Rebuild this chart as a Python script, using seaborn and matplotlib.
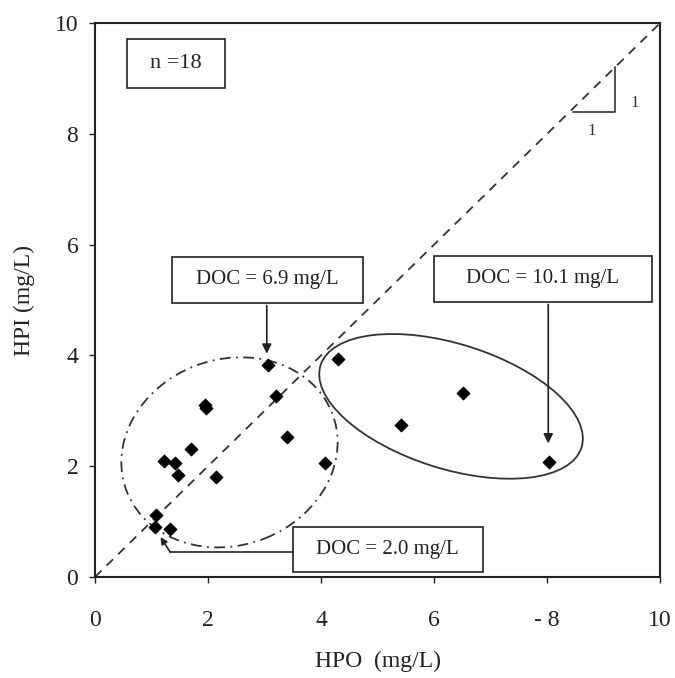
import matplotlib
matplotlib.use("Agg")
import matplotlib.pyplot as plt
from matplotlib.patches import Ellipse, Rectangle
import seaborn as sns
import pandas as pd

# data
hpo = [3.06, 3.20, 1.96, 1.95, 3.40, 1.70, 1.22, 1.42, 1.47, 2.15, 4.07,
       1.08, 1.06, 1.33, 4.30, 6.52, 5.41, 8.04]
hpi = [3.83, 3.27, 3.05, 3.10, 2.52, 2.31, 2.09, 2.05, 1.84, 1.81, 2.06,
       1.12, 0.91, 0.86, 3.93, 3.33, 2.74, 2.08]
tick_vals = [0, 2, 4, 6, 8, 10]
x_tick_labels = ["0", "2", "4", "6", "- 8", "10"]
y_tick_labels = ["0", "2", "4", "6", "8", "10"]

df = pd.DataFrame({"HPO": hpo, "HPI": hpi})

sns.set_style("white")
plt.rcParams['font.family'] = ['Liberation Serif', 'DejaVu Serif']

fig = plt.figure(figsize=(6.75, 6.78), dpi=100)
ax = fig.add_axes([0.1407, 0.149, 0.8373, 0.817])

# 1:1 line
ax.plot([0, 10], [0, 10], ls=(0, (5, 4)), color="#333333", lw=1.3, zorder=1)

sns.scatterplot(data=df, x="HPO", y="HPI", marker="D", color="black",
                s=45, edgecolor="black", ax=ax, zorder=3)

# grouping ellipses
ax.add_patch(Ellipse((2.38, 2.25), 3.9, 3.35, angle=22, fill=False,
                     ls=(0, (6, 3, 1, 3)), lw=1.3, color="#333333"))
ax.add_patch(Ellipse((6.3, 3.08), 4.85, 2.25, angle=-18, fill=False,
                     lw=1.3, color="#333333"))

# text boxes
def box(x0, y0, x1, y1, text, fs):
    ax.add_patch(Rectangle((x0, y0), x1 - x0, y1 - y0, fill=False,
                           lw=1.2, color="#222222", zorder=4))
    ax.text((x0 + x1) / 2, (y0 + y1) / 2, text, ha="center", va="center",
            fontsize=fs, color="#222222", zorder=5)

box(0.56, 8.82, 2.30, 9.72, "n =18", 16)
box(1.36, 4.95, 4.74, 5.78, "DOC = 6.9 mg/L", 15)
box(5.99, 4.97, 9.85, 5.80, "DOC = 10.1 mg/L", 15)
box(3.50, 0.085, 6.86, 0.91, "DOC = 2.0 mg/L", 15)

arrow = dict(arrowstyle="-|>", color="#222222", lw=1.2, mutation_scale=14)
ax.annotate("", xy=(3.04, 3.98), xytext=(3.04, 4.95), arrowprops=arrow)
ax.annotate("", xy=(8.02, 2.36), xytext=(8.02, 4.97), arrowprops=arrow)
ax.plot([3.50, 1.33], [0.45, 0.45], color="#222222", lw=1.2)
ax.annotate("", xy=(1.16, 0.72), xytext=(1.33, 0.45),
            arrowprops=dict(arrowstyle="-|>", color="#222222", lw=1.2,
                            mutation_scale=10, shrinkA=0, shrinkB=0))

# slope triangle
ax.plot([8.45, 9.2, 9.2], [8.4, 8.4, 9.2], color="#333333", lw=1.2)
ax.text(8.78, 8.05, "1", ha="center", va="center", fontsize=12, color="#333333")
ax.text(9.55, 8.55, "1", ha="center", va="center", fontsize=12, color="#333333")

ax.set_xlim(0, 10)
ax.set_ylim(0, 10)
ax.set_xticks(tick_vals)
ax.set_xticklabels(x_tick_labels)
ax.set_yticks(tick_vals)
ax.set_yticklabels(y_tick_labels)
ax.tick_params(direction="out", length=4, width=1, labelsize=17,
               colors="#222222", bottom=True, left=True)
ax.tick_params(axis="x", pad=20)
ax.tick_params(axis="y", pad=8)
ax.set_xlabel("HPO  (mg/L)", fontsize=17, labelpad=14, color="#222222")
ax.set_ylabel("HPI (mg/L)", fontsize=17, labelpad=14, color="#222222")
for sp in ax.spines.values():
    sp.set_color("#222222")
    sp.set_linewidth(1.5)

fig.savefig("out.png", dpi=100)
